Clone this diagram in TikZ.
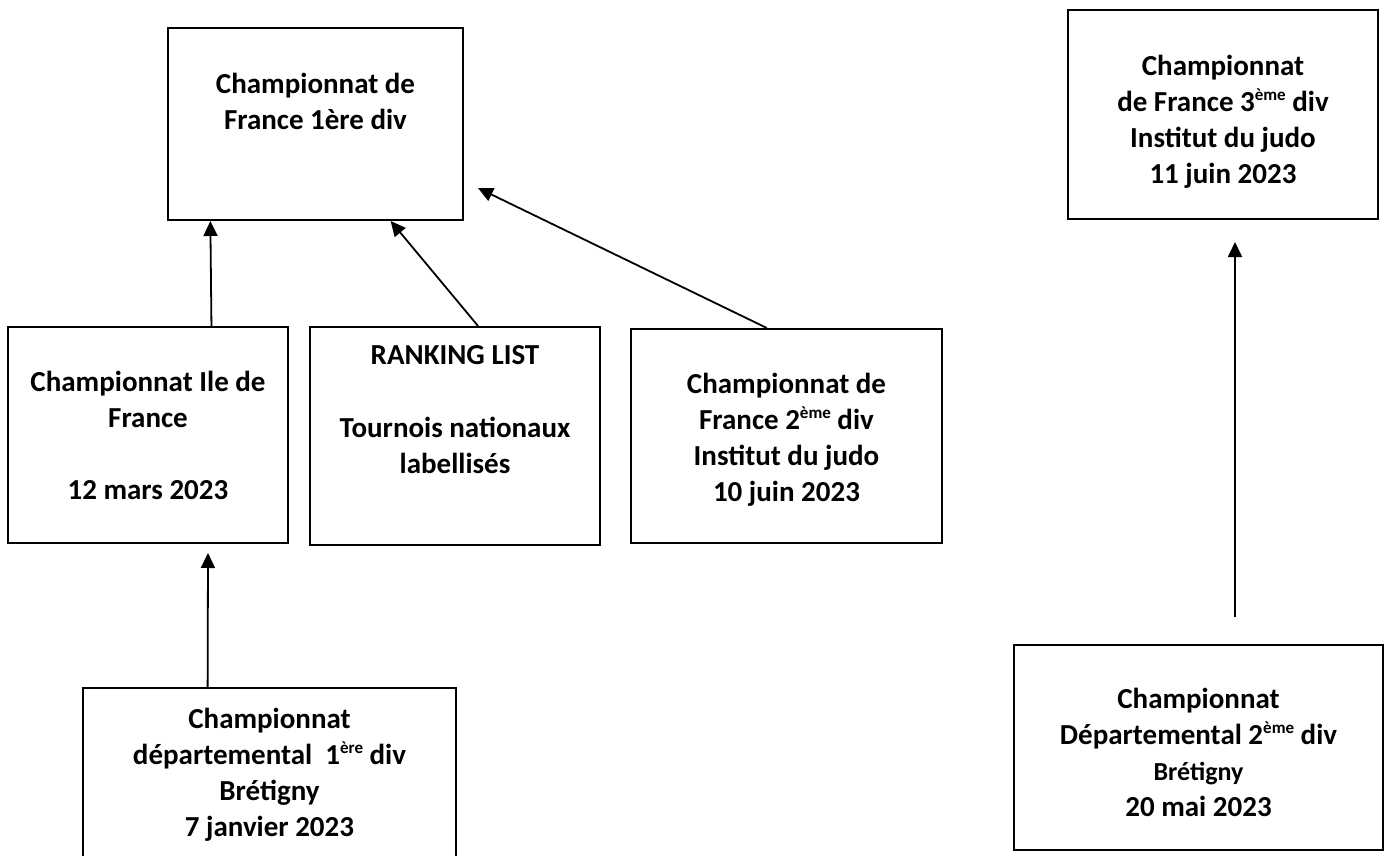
\documentclass[tikz,border=0pt]{standalone}
\usepackage{fontspec}
\setmainfont{Carlito}
\usetikzlibrary{arrows.meta,calc}
\newcommand\supx[1]{\raisebox{11pt}{\fontsize{17}{17}\selectfont #1}}
\tikzset{
  box/.style={draw=black, line width=2pt, inner sep=0pt, rectangle},
  txt/.style={anchor=north, inner sep=0pt, align=center, font=\fontsize{29}{36}\selectfont\bfseries},
  arr/.style={line width=1.8pt, -{Triangle[length=15pt,width=14pt]}}
}
\begin{document}
\begin{tikzpicture}[x=1pt,y=-1pt]
\useasboundingbox (0,0) rectangle (1385,856);
\clip (0,0) rectangle (1385,856);
% boxes
\node[box, minimum width=295pt, minimum height=192pt] (A) at (315.5,124) {};
\node[box, minimum width=280pt, minimum height=216pt] (B) at (148,435) {};
\node[box, minimum width=290pt, minimum height=218pt] (C) at (455,436) {};
\node[box, minimum width=311pt, minimum height=214pt] (D) at (786.5,436) {};
\node[box, minimum width=310pt, minimum height=209pt] (E) at (1223,114.5) {};
\node[box, minimum width=373pt, minimum height=190pt] (F) at (269.5,783) {};
\node[box, minimum width=369pt, minimum height=205pt] (G) at (1198.5,747.5) {};
% texts
\node[txt] (tA) at (315.5,69) {\rule{0pt}{24pt}Championnat de\\France 1ère div};
\node[txt] (tB) at (148,367) {\rule{0pt}{24pt}Championnat Ile de\\France\\[36pt]12 mars 2023};
\node[txt] (tC) at (455,340) {\rule{0pt}{24pt}RANKING LIST\\[37pt]Tournois nationaux\\labellisés};
\node[txt] (tD) at (786.5,369) {\rule{0pt}{24pt}Championnat de\\France 2\supx{ème} div\\Institut du judo\\10 juin 2023};
\node[txt] (tE) at (1223,51) {\rule{0pt}{24pt}Championnat\\de France 3\supx{ème} div\\Institut du judo\\11 juin 2023};
\node[txt] (tF) at (269.5,704) {\rule{0pt}{24pt}Championnat\\départemental~ 1\supx{ère} div\\Brétigny\\7 janvier 2023};
\node[txt] (tG) at (1198.5,684) {\rule{0pt}{24pt}Championnat\\Départemental 2\supx{ème} div\\{\fontsize{26}{36}\selectfont Brétigny}\\20 mai 2023};
% free ends
\coordinate (dA) at (478,188);
\coordinate (fB) at (208,553);
\coordinate (gS) at (1235,617);
\coordinate (gE) at (1235,242);
% connectors
\draw[arr] ($(B.north west)!0.725!(B.north east)$) -- ($(A.south west)!0.146!(A.south east)$);
\draw[arr] ($(C.north west)!0.579!(C.north east)$) -- ($(A.south west)!0.753!(A.south east)$);
\draw[arr] ($(D.north west)!0.437!(D.north east)$) -- (dA);
\draw[arr] ($(F.north west)!0.335!(F.north east)$) -- (fB);
\draw[arr] (gS) -- (gE);
\end{tikzpicture}
\end{document}
